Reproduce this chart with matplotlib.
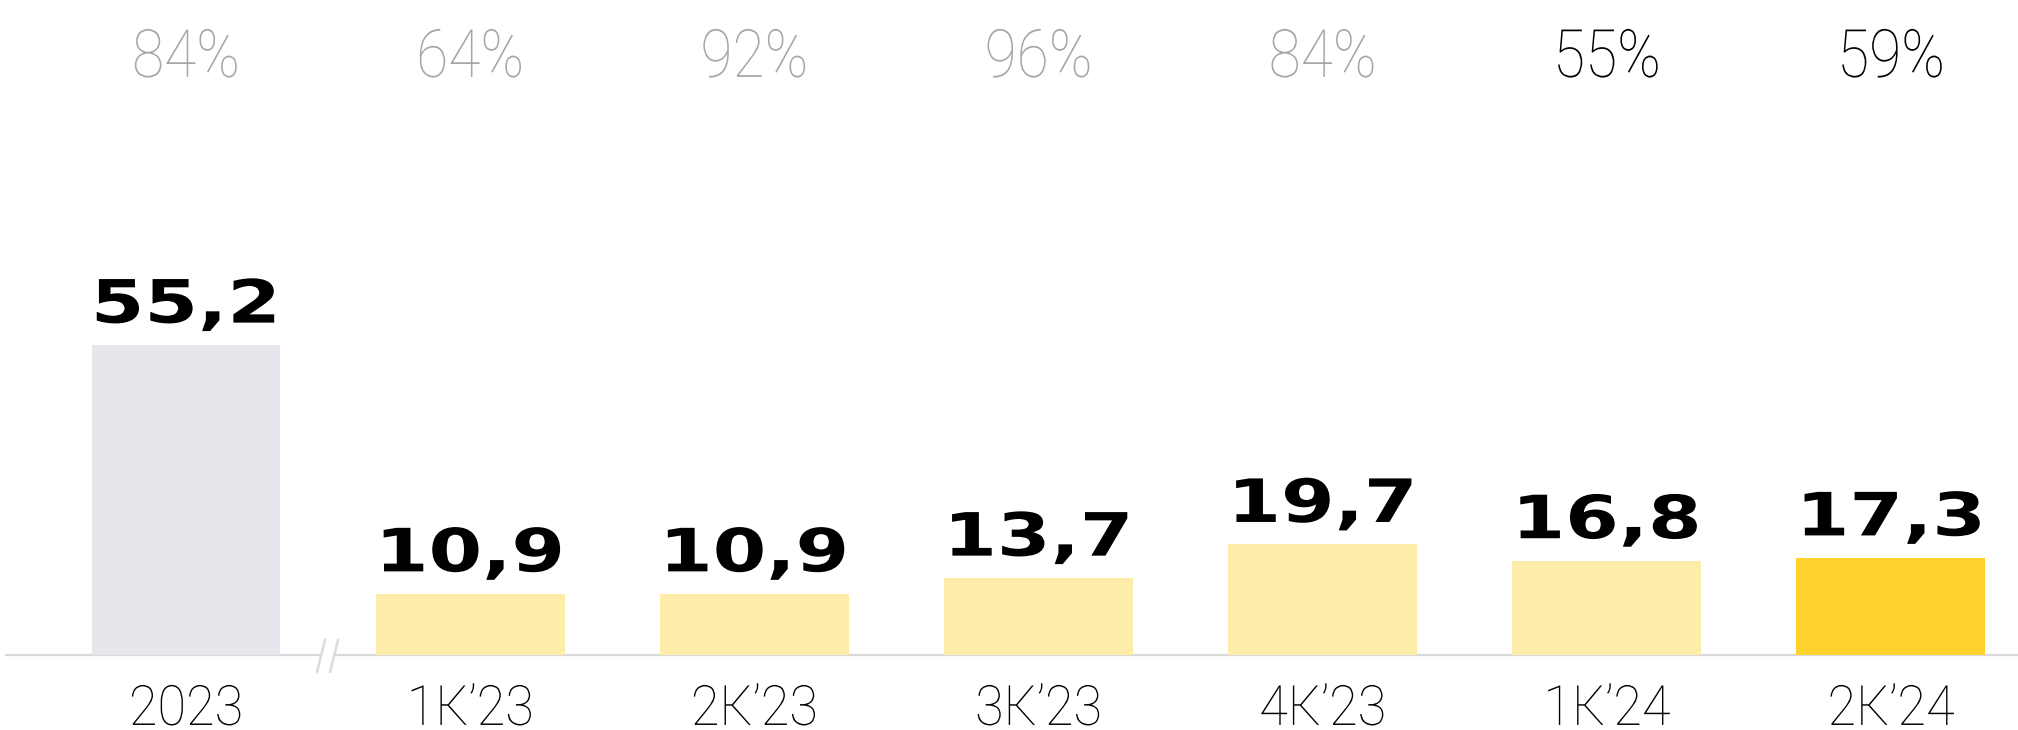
import matplotlib
matplotlib.use('Agg')
import matplotlib.pyplot as plt
from matplotlib.patches import Polygon
from matplotlib.patheffects import AbstractPathEffect
from matplotlib.transforms import Affine2D

categories = ['2023', '1К’23', '2К’23', '3К’23', '4К’23', '1К’24', '2К’24']
values = [55.2, 10.9, 10.9, 13.7, 19.7, 16.8, 17.3]
value_labels = ['55,2', '10,9', '10,9', '13,7', '19,7', '16,8', '17,3']
shares = ['84%', '64%', '92%', '96%', '84%', '55%', '59%']

bar_colors = ['#e6e7ec'] + ['#feeda8'] * 5 + ['#fdd22c']
share_colors = ['#a6a6a6'] * 5 + ['#000000'] * 2


class HStretch(AbstractPathEffect):
    # squeeze / widen the glyphs horizontally around the text anchor
    def __init__(self, sx, ax, xdata):
        super().__init__()
        self.sx = sx
        self.ax = ax
        self.xdata = xdata

    def draw_path(self, renderer, gc, tpath, affine, rgbFace=None):
        cx = self.ax.transData.transform((self.xdata, 0))[0]
        t = affine + Affine2D().translate(-cx, 0).scale(self.sx, 1).translate(cx, 0)
        renderer.draw_path(gc, tpath, t, rgbFace)


fig = plt.figure(figsize=(20.18, 7.3), dpi=100)
ax = fig.add_axes([0, 0, 1, 1])
x = list(range(len(categories)))
ax.bar(x, values, width=0.665, color=bar_colors, zorder=2)
ax.set_xlim(-0.6546, 6.447)
ax.set_ylim(-13.35, 116.65)
ax.axis('off')

# baseline
ax.plot([-0.633, 6.447], [0, 0], color='#d9d9d9', lw=1.6, zorder=1)

for xi, v, lab in zip(x, values, value_labels):
    ax.text(xi, v + 4.0, lab, ha='center', va='baseline', fontsize=43,
            fontweight='bold', family='DejaVu Sans',
            path_effects=[HStretch(1.29, ax, xi)])
for xi, s, c in zip(x, shares, share_colors):
    ax.text(xi, 102.95, s, ha='center', va='baseline', fontsize=48,
            color=c, family='Roboto', fontweight='light',
            path_effects=[HStretch(0.88, ax, xi)])
for xi, cat in zip(x, categories):
    ax.text(xi, -12.45, cat, ha='center', va='baseline', fontsize=40,
            family='Roboto', fontweight='light',
            path_effects=[HStretch(0.94, ax, xi)])

# axis break mark between 2023 and the quarters
bl, tl, tr, br = (0.461, -3.0), (0.489, 2.67), (0.535, 2.67), (0.507, -3.0)
ax.add_patch(Polygon([bl, tl, tr, br], closed=True, facecolor='white',
                     edgecolor='none', zorder=3))
ax.plot([bl[0], tl[0]], [bl[1], tl[1]], color='#dcdcdc', lw=1.8, zorder=4)
ax.plot([br[0], tr[0]], [br[1], tr[1]], color='#dcdcdc', lw=1.8, zorder=4)

fig.savefig('out.png')
